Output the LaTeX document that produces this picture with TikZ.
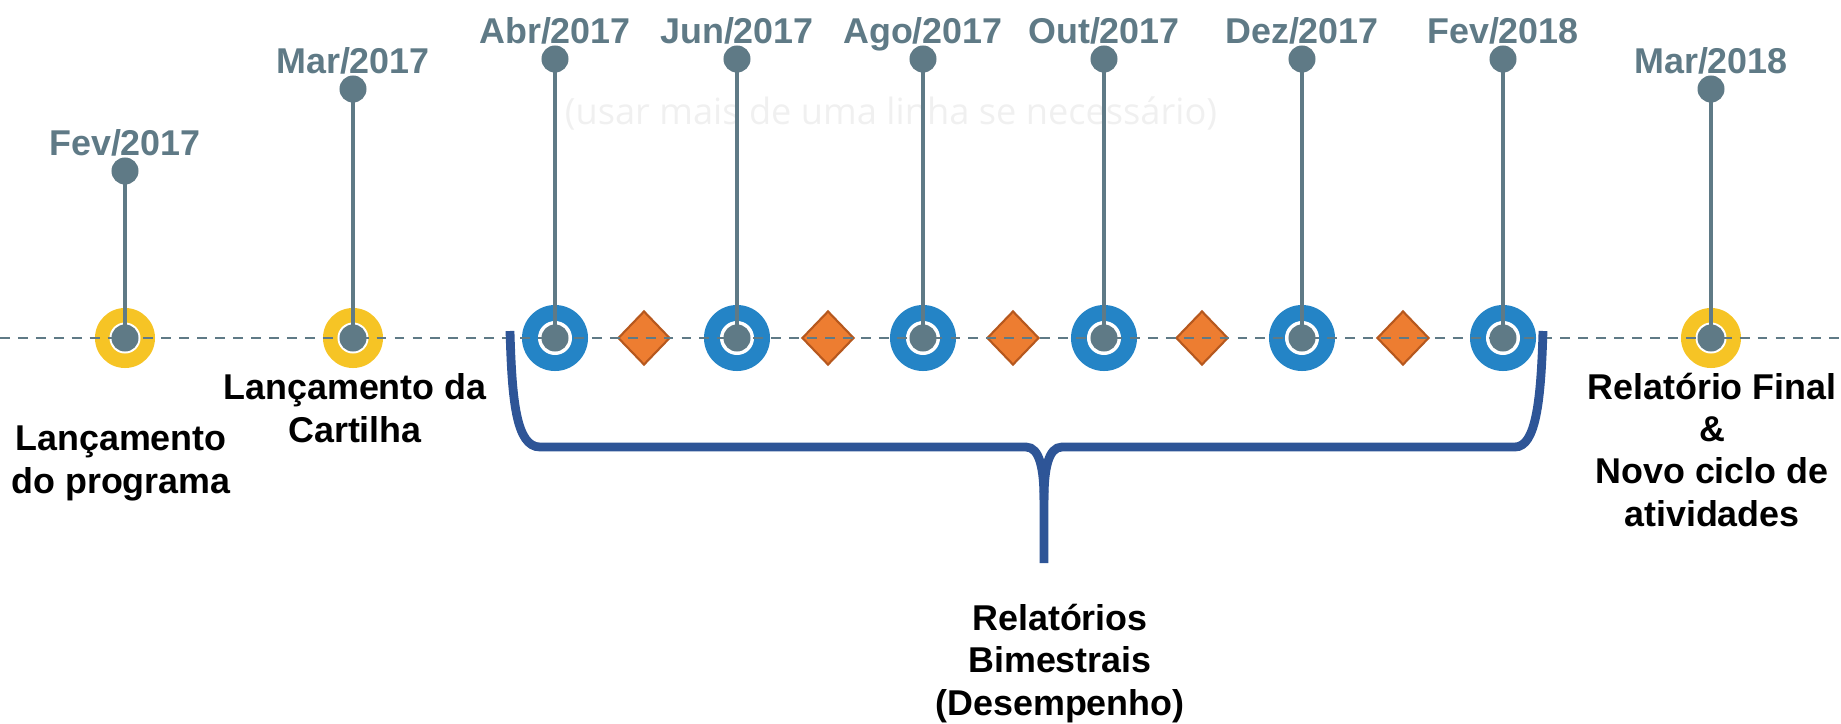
\documentclass[tikz,border=0pt]{standalone}
\usepackage{fontspec}
\setmainfont{Liberation Sans}
\newfontfamily\hintfont{Open Sans}
\usetikzlibrary{shapes.geometric}
\definecolor{slate}{HTML}{5F7A86}
\definecolor{gold}{HTML}{F6C425}
\definecolor{azure}{HTML}{2484C6}
\definecolor{tangerine}{HTML}{ED7D31}
\definecolor{rust}{HTML}{B6581E}
\definecolor{navy}{HTML}{2E5597}
\begin{document}
\begin{tikzpicture}[x=0.01cm, y=-0.01cm,
  lbl/.style={font=\fontsize{10.2}{12}\selectfont\bfseries, align=center, inner sep=0pt},
  dot/.style={circle, fill=slate, inner sep=0pt, minimum size=0.27cm}]
  \useasboundingbox (0,0) rectangle (1841,724);
  \node[font=\hintfont\fontsize{10.3}{12}\selectfont, text=black!6] (hint) at (891,113)
    {(usar mais de uma linha se necessário)};
  \foreach \n/\x/\c/\r/\h in {
    1/125/gold/0.60/0.31, 2/353/gold/0.60/0.31, 3/555/azure/0.66/0.34, 4/737/azure/0.66/0.34,
    5/923/azure/0.66/0.34, 6/1104/azure/0.66/0.34, 7/1302/azure/0.66/0.34, 8/1503/azure/0.66/0.34,
    9/1711/gold/0.60/0.31} {
    \node[circle, fill=\c, inner sep=0pt, minimum size=\r cm] (r\n) at (\x,338) {};
    \node[circle, fill=white, inner sep=0pt, minimum size=\h cm] (h\n) at (\x,338) {};
  }
  \foreach \i/\x in {1/644, 2/828, 3/1013, 4/1202, 5/1403}
    \node[diamond, fill=tangerine, draw=rust, line width=0.6pt, inner sep=0pt,
      minimum width=0.52cm, minimum height=0.54cm] (d\i) at (\x,338) {};
  \coordinate (lineL) at (0,338);
  \coordinate (lineR) at (1841,338);
  \draw[slate, line width=0.8pt, dash pattern=on 2.8pt off 2.3pt] (lineL) -- (lineR);
  \foreach \n/\x/\y/\t in {
    1/125/171/{Fev/2017}, 2/353/89/{Mar/2017}, 3/555/59/{Abr/2017}, 4/737/59/{Jun/2017},
    5/923/59/{Ago/2017}, 6/1104/59/{Out/2017}, 7/1302/59/{Dez/2017}, 8/1503/59/{Fev/2018},
    9/1711/89/{Mar/2018}} {
    \node[dot] (c\n) at (\x,338) {};
    \node[dot] (t\n) at (\x,\y) {};
    \draw[slate, line width=1.35pt] (t\n.center) -- (c\n.center);
    \node[lbl, text=slate, anchor=base] (l\n) at (\x,\y-16) {\t};
  }
  \node[lbl, anchor=base] (prog) at (121,493) {Lançamento\\do programa};
  \node[lbl, anchor=base] (cart) at (355,442) {Lançamento da\\Cartilha};
  \node[lbl, anchor=base] (final) at (1712,526) {Relatório Final\\\&\\Novo ciclo de\\atividades};
  \node[lbl, anchor=base] (bim) at (1060,715) {Relatórios\\Bimestrais\\(Desempenho)};
  \draw[navy, line width=2.5pt] (510,331) .. controls (512,400) and (516,447) .. (540,447)
    -- (1026,447) .. controls (1040,447) and (1044,470) .. (1044,500) -- (1044,563);
  \draw[navy, line width=2.5pt] (1044,500) .. controls (1044,470) and (1048,447) .. (1062,447)
    -- (1515,447) .. controls (1536,447) and (1541,400) .. (1543,331);
\end{tikzpicture}
\end{document}
